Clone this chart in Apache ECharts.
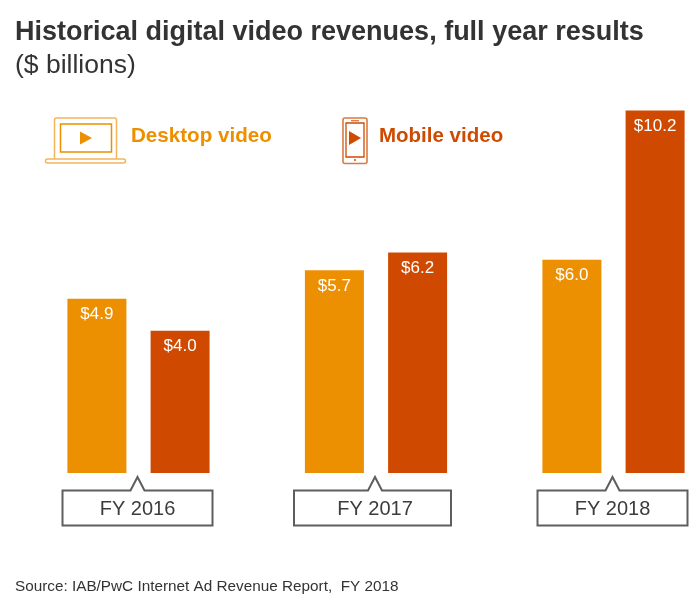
<!DOCTYPE html>
<html>
<head>
<meta charset="utf-8">
<style>html,body{margin:0;padding:0;background:#fff}#chart{width:700px;height:599px}</style>
<script src="https://cdn.jsdelivr.net/npm/echarts@6/dist/echarts.min.js"></script>
</head>
<body>
<div id="chart"></div>
<script>
var categories = ['FY 2016', 'FY 2017', 'FY 2018'];
var desktopVideo = [4.9, 5.7, 6.0];
var mobileVideo = [4.0, 6.2, 10.2];

var ORANGE = '#EC8F00';
var RUST = '#CF4A00';
var GREY = '#5E5E5E';
var TEXT = '#333333';
var FONT = '"Liberation Sans", Arial, sans-serif';

var chart = echarts.init(document.getElementById('chart'), null, {renderer: 'canvas'});

function money(p) {
    return '$' + p.value.toFixed(1);
}

// callout boxes hang under the bars, the pointer comes from the x axis position
var boxLeft = [75, 81, 75];
var boxRight = [75, 76, 75];

function renderCallout(params, api) {
    var i = params.dataIndex;
    var base = api.coord([i, 0]);
    var mid = base[0] - 1;
    var tip = base[1] + 4;
    var y = tip + 13.5, h = 35;
    var l = mid - boxLeft[i], r = mid + boxRight[i];
    return {
        type: 'group',
        children: [{
            type: 'polygon',
            shape: {points: [[l, y], [mid - 7, y], [mid, tip], [mid + 7, y], [r, y], [r, y + h], [l, y + h]]},
            style: {fill: '#fff', stroke: GREY, lineWidth: 2}
        }, {
            type: 'text',
            style: {
                x: mid, y: y + h / 2 + 1, text: categories[i], fill: '#3C3C3C',
                font: '20px ' + FONT, align: 'center', verticalAlign: 'middle'
            }
        }]
    };
}

var laptop = [
    {type: 'rect', shape: {x: 54.5, y: 118, width: 62, height: 42, r: 2}, style: {fill: 'none', stroke: '#F3B45C', lineWidth: 1.5}},
    {type: 'rect', shape: {x: 60.5, y: 124, width: 51, height: 28}, style: {fill: 'none', stroke: ORANGE, lineWidth: 1.5}},
    {type: 'polygon', shape: {points: [[80, 131.5], [92, 138], [80, 144.5]]}, style: {fill: ORANGE}},
    {type: 'rect', shape: {x: 45.5, y: 159, width: 80, height: 4, r: 2}, style: {fill: '#fff', stroke: '#F3B45C', lineWidth: 1.5}}
];
var phone = [
    {type: 'rect', shape: {x: 343, y: 118, width: 24, height: 45.5, r: 2}, style: {fill: 'none', stroke: '#DB7A40', lineWidth: 1.6}},
    {type: 'rect', shape: {x: 346, y: 123, width: 18, height: 34}, style: {fill: 'none', stroke: RUST, lineWidth: 1.3}},
    {type: 'polygon', shape: {points: [[349, 131], [361, 138], [349, 145]]}, style: {fill: RUST}},
    {type: 'line', shape: {x1: 351, y1: 120.8, x2: 359, y2: 120.8}, style: {stroke: RUST, lineWidth: 1}},
    {type: 'circle', shape: {cx: 355, cy: 160, r: 1}, style: {fill: RUST}}
];

chart.setOption({
    animation: false,
    backgroundColor: '#fff',
    textStyle: {fontFamily: FONT},
    title: [{
        text: 'Historical digital video revenues, full year results',
        left: 10, top: 14,
        textStyle: {fontSize: 27, fontWeight: 'bold', color: TEXT, fontFamily: FONT}
    }, {
        text: '($ billions)',
        left: 10, top: 47,
        textStyle: {fontSize: 26.5, fontWeight: 'normal', color: TEXT, fontFamily: FONT}
    }, {
        text: 'Desktop video',
        left: 126, top: 121,
        textStyle: {fontSize: 20.6, fontWeight: 'bold', color: ORANGE, fontFamily: FONT}
    }, {
        text: 'Mobile video',
        left: 374, top: 121,
        textStyle: {fontSize: 20.5, fontWeight: 'bold', color: RUST, fontFamily: FONT}
    }, {
        text: 'Source: IAB/PwC Internet Ad Revenue Report,  FY 2018',
        left: 10, top: 574,
        textStyle: {fontSize: 15.3, fontWeight: 'normal', color: TEXT, fontFamily: FONT}
    }],
    grid: {left: 138.5, width: 475, top: 73, height: 400},
    xAxis: {
        type: 'category',
        data: categories,
        boundaryGap: false,
        axisLine: {show: false},
        axisTick: {show: false},
        axisLabel: {show: false}
    },
    yAxis: {
        type: 'value',
        min: 0,
        max: 400 / 35.55,
        show: false,
        splitLine: {show: false}
    },
    series: [{
        name: 'Desktop video',
        type: 'bar',
        data: desktopVideo,
        barWidth: 59,
        barGap: '41%',
        itemStyle: {color: ORANGE},
        label: {show: true, position: 'insideTop', distance: 7, formatter: money, color: '#fff', fontSize: 17, fontFamily: FONT}
    }, {
        name: 'Mobile video',
        type: 'bar',
        data: mobileVideo,
        barWidth: 59,
        itemStyle: {color: RUST},
        label: {show: true, position: 'insideTop', distance: 7, formatter: money, color: '#fff', fontSize: 17, fontFamily: FONT}
    }, {
        type: 'custom',
        data: categories.map(function (c, i) { return [i, 0]; }),
        renderItem: renderCallout,
        silent: true,
        clip: false
    }],
    graphic: laptop.concat(phone)
});
</script>
</body>
</html>
